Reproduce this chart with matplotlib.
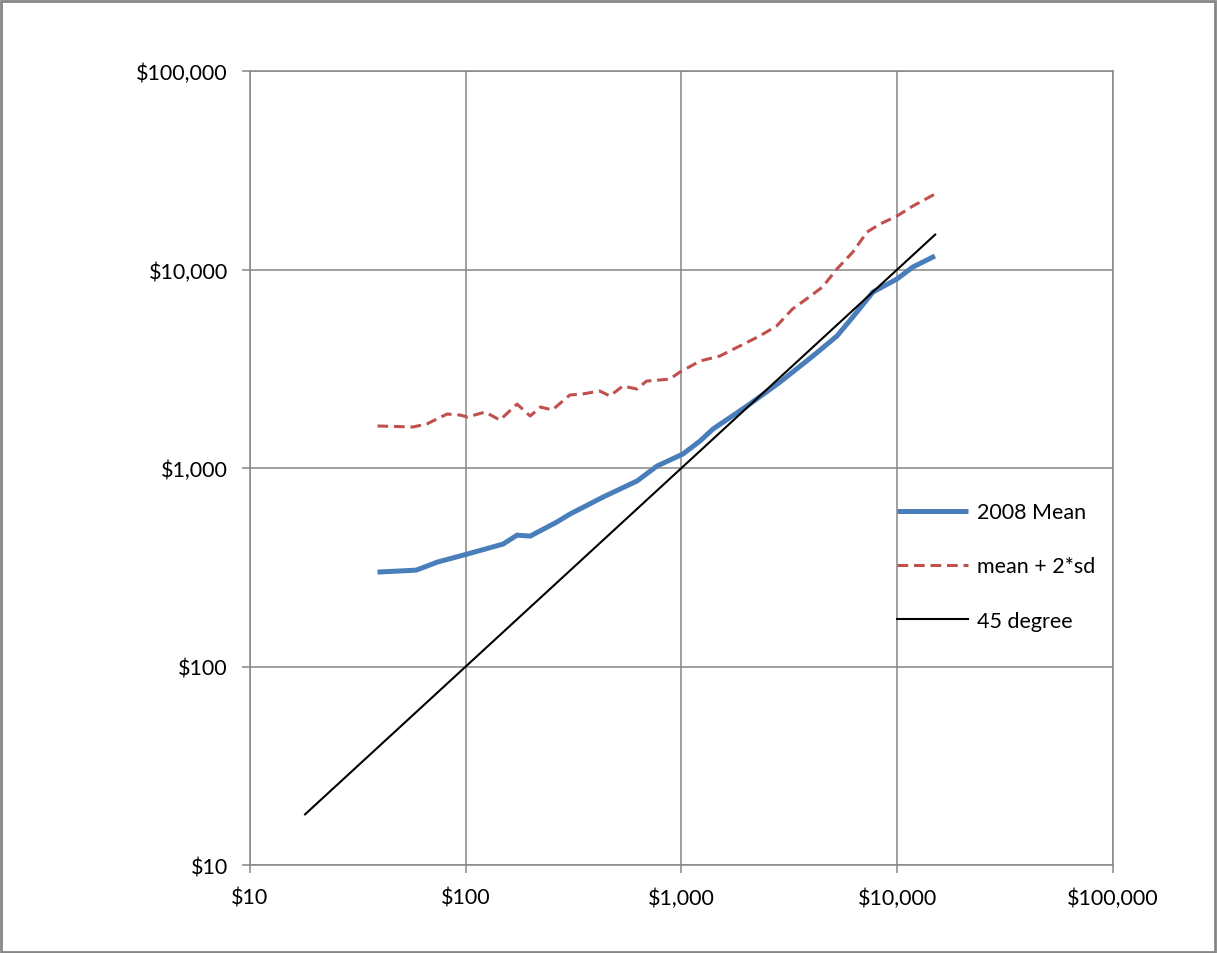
import matplotlib.pyplot as plt
import matplotlib.patches as mpatches
from matplotlib.ticker import FixedLocator, FuncFormatter, NullLocator

plt.rcParams.update({
    "font.family": ["Lato", "DejaVu Sans"],
    "font.size": 15,
})

# 2008 Mean
mean_x = [39, 59, 74, 102, 149, 173, 199, 265, 304, 433, 622, 770, 1016, 1219,
          1400, 2012, 2864, 4066, 5256, 6507, 7720, 9976, 11830, 14960]
mean_y = [299, 306, 336, 369, 414, 459, 454, 535, 586, 714, 860, 1023, 1177, 1368,
          1572, 2052, 2711, 3667, 4624, 6109, 7705, 8958, 10300, 11700]

# mean + 2*sd
sd_x = [39, 57, 66, 82, 94, 102, 123, 144, 173, 199, 222, 252, 304, 347, 418, 466,
        535, 622, 689, 883, 984, 1219, 1506, 1862, 2302, 2759, 3269, 3794, 4505,
        5256, 6232, 7245, 8323, 9976, 11830, 14960]
sd_y = [1629, 1610, 1667, 1871, 1849, 1807, 1915, 1745, 2099, 1828, 2030, 1961,
        2333, 2360, 2443, 2307, 2588, 2500, 2742, 2805, 3046, 3459, 3667, 4117,
        4624, 5190, 6322, 7099, 8163, 10070, 12250, 15450, 16950, 18600, 20900, 24000]

# 45 degree line
deg_x = [18, 15000]
deg_y = [18, 15000]

ticks = [10, 100, 1000, 10000, 100000]
grid_col = "#868686"

fig = plt.figure(figsize=(12.17, 9.54), dpi=100)
ax = fig.add_axes([0.2054, 0.0922, 0.7091, 0.8323])

ax.plot(mean_x, mean_y, color="#4a7ebb", linewidth=3.6, label="2008 Mean",
        solid_capstyle="butt", zorder=3)
ax.plot(sd_x, sd_y, color="#c0504d", linewidth=2.2, linestyle=(0, (3.5, 1.9)),
        label="mean + 2*sd", zorder=3)
ax.plot(deg_x, deg_y, color="black", linewidth=1.5, label="45 degree", zorder=4)

ax.set_xscale("log")
ax.set_yscale("log")
ax.set_xlim(10, 100000)
ax.set_ylim(10, 100000)
for axis in (ax.xaxis, ax.yaxis):
    axis.set_major_locator(FixedLocator(ticks))
    axis.set_minor_locator(NullLocator())
    axis.set_major_formatter(FuncFormatter(lambda v, p: f"${v:,.0f}"))
ax.grid(True, color=grid_col, linewidth=1.1)
ax.set_axisbelow(True)
for s in ax.spines.values():
    s.set_color(grid_col)
    s.set_linewidth(1.1)
ax.tick_params(length=6, width=1.1, color=grid_col, pad=10, labelsize=15.5)

# legend sits right of the $10,000 gridline, no frame
ax.legend(loc="upper left", bbox_to_anchor=(0.7215, 0.493), bbox_transform=fig.transFigure,
          frameon=False, handlelength=3.3, labelspacing=1.6, handletextpad=0.4,
          fontsize=15.5)

fig.patches.append(mpatches.Rectangle((0.001, 0.001), 0.997, 0.997, transform=fig.transFigure,
                                      fill=False, edgecolor=grid_col, linewidth=2))

fig.savefig("out.png", dpi=100)
